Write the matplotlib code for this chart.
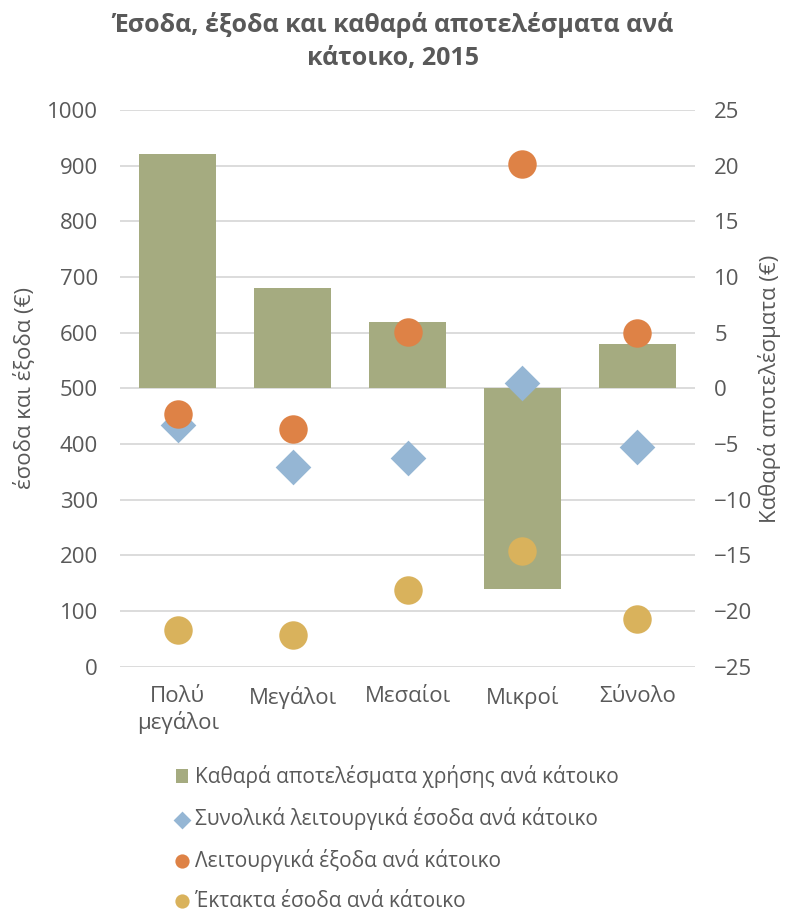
import matplotlib.pyplot as plt
import numpy as np

plt.rcParams['font.family'] = ['Open Sans', 'DejaVu Sans']

categories = ['Πολύ\nμεγάλοι', 'Μεγάλοι', 'Μεσαίοι', 'Μικροί', 'Σύνολο']
net_results = [21, 9, 6, -18, 4]            # right axis
total_income = [435, 358, 375, 510, 395]    # left axis
op_expenses = [454, 427, 601, 903, 600]
extra_income = [66, 57, 138, 208, 86]

grey = '#595959'
c_bar = '#A5AB80'
c_dia = '#95B6D4'
c_org = '#DE8246'
c_yel = '#D9B25C'

fig = plt.figure(figsize=(7.86, 9.16), dpi=100)
ax = fig.add_axes([0.153, 0.272, 0.731, 0.608])
ax2 = ax.twinx()

x = np.arange(len(categories))

ax2.bar(x, net_results, width=0.67, color=c_bar, zorder=2,
        label='Καθαρά αποτελέσματα χρήσης ανά κάτοικο')
ax2.set_ylim(-25, 25)
ax2.set_yticks(range(-25, 26, 5))

ax.set_ylim(0, 1000)
ax.set_yticks(range(0, 1001, 100))
ax.set_xlim(-0.5, len(categories) - 0.5)
ax.grid(axis='y', color='#D9D9D9', linewidth=1.3, zorder=0)
ax.set_axisbelow(True)

# scatter series use the left scale, converted so they sit above the bars
def to_right(v):
    return [(val - 500) / 20 for val in v]

ax2.scatter(x, to_right(total_income), marker='D', s=330, color=c_dia, zorder=3,
            linewidths=0, label='Συνολικά λειτουργικά έσοδα ανά κάτοικο')
ax2.scatter(x, to_right(op_expenses), marker='o', s=420, color=c_org, zorder=3,
            linewidths=0, label='Λειτουργικά έξοδα ανά κάτοικο')
ax2.scatter(x, to_right(extra_income), marker='o', s=420, color=c_yel, zorder=3,
            linewidths=0, label='Έκτακτα έσοδα ανά κάτοικο')

ax.set_xticks(x)
ax.set_xticklabels(categories)

for a in (ax, ax2):
    for s in a.spines.values():
        s.set_visible(False)
    a.tick_params(length=0, labelsize=16, colors=grey)
ax.tick_params(axis='y', pad=16)
ax2.tick_params(axis='y', pad=14)
ax.tick_params(axis='x', pad=14)

ax.set_ylabel('έσοδα και έξοδα (€)', fontsize=16, color=grey, labelpad=8)
ax2.set_ylabel('Καθαρά αποτελέσματα (€)', fontsize=16, color=grey, labelpad=4)

fig.suptitle('Έσοδα, έξοδα και καθαρά αποτελέσματα ανά\nκάτοικο, 2015',
             fontsize=18, fontweight='bold', color=grey, y=0.987,
             linespacing=1.45)

h, l = ax2.get_legend_handles_labels()
order = [3, 0, 1, 2]
fig.legend([h[i] for i in order], [l[i] for i in order], loc='upper left',
           bbox_to_anchor=(0.2, 0.185), frameon=False,
           fontsize=15, labelcolor=grey, handlelength=0.6, handletextpad=0.3,
           labelspacing=0.9, markerscale=0.5)

fig.savefig('out.png', dpi=100)
